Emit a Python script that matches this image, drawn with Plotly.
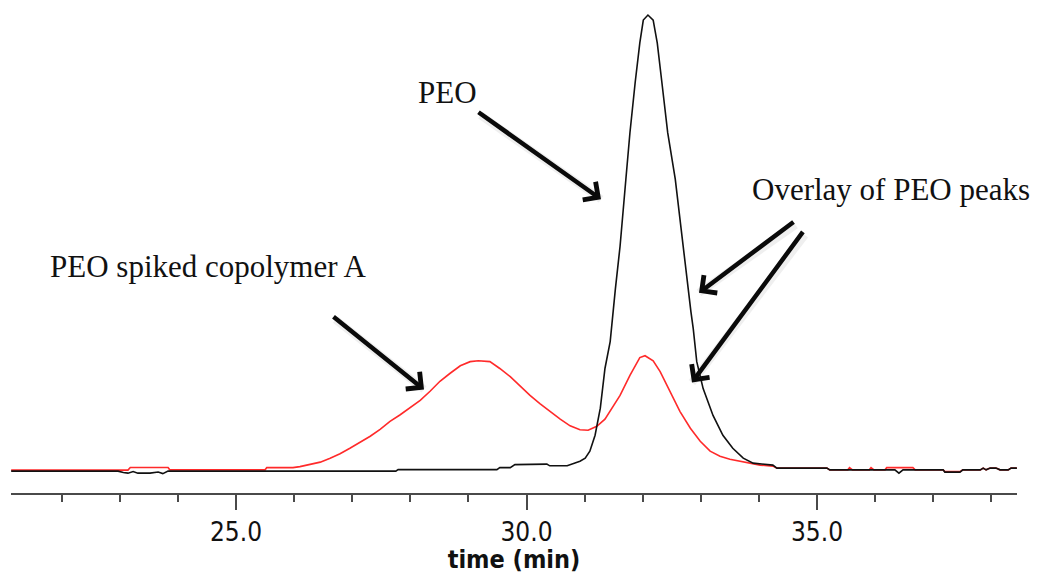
import plotly.graph_objects as go

# Elution time (min) and detector response (normalised, PEO peak = 100)
peo_time = [21.13, 22.97, 23.06, 23.14, 23.23, 23.31, 23.52, 23.66, 23.74, 23.83,
            27.75, 27.79, 29.49, 29.54, 29.72, 29.80, 30.35, 30.40, 30.70, 30.83,
            30.92, 31.01, 31.09, 31.18, 31.27, 31.35, 31.44, 31.53, 31.61, 31.71,
            31.78, 31.87, 31.95, 32.01, 32.09, 32.18, 32.25, 32.33, 32.43, 32.56,
            32.69, 32.83, 32.87, 32.93, 33.04, 33.21, 33.38, 33.55, 33.73, 33.90,
            34.24, 34.31, 35.17, 35.22, 36.34, 36.41, 36.48, 37.17, 37.20, 37.46,
            37.51, 37.81, 37.86, 37.91, 37.98, 38.08, 38.15, 38.29, 38.34, 38.44]
peo_signal = [0.0, 0.0, -0.3, -0.45, -0.1, -0.45, -0.45, -0.2, -0.55, 0.0,
              0.0, 0.33, 0.33, 0.76, 0.76, 1.42, 1.53, 1.16, 1.16, 1.75,
              2.18, 2.84, 4.37, 7.86, 13.8, 22.5, 28.4, 40.0, 49.3, 64.0,
              74.2, 85.2, 93.9, 98.9, 100.0, 98.9, 93.9, 85.2, 74.2, 64.0,
              49.3, 34.9, 31.2, 24.0, 18.1, 12.2, 7.86, 5.02, 2.84, 1.75,
              1.31, 0.66, 0.66, 0.28, 0.28, -0.44, 0.28, 0.28, -0.22, -0.22,
              0.28, 0.28, 0.66, 0.28, 0.66, 0.66, 0.28, 0.28, 0.66, 0.66]

spiked_time = [21.13, 23.14, 23.18, 23.83, 23.86, 25.50, 25.53, 25.98, 26.10, 26.27,
               26.45, 26.62, 26.79, 26.96, 27.13, 27.31, 27.48, 27.65, 27.82, 27.99,
               28.17, 28.34, 28.51, 28.68, 28.86, 29.03, 29.17, 29.37, 29.54, 29.72,
               29.89, 30.06, 30.23, 30.40, 30.58, 30.75, 30.92, 31.06, 31.21, 31.35,
               31.44, 31.61, 31.78, 31.95, 32.04, 32.18, 32.30, 32.47, 32.64, 32.82,
               32.99, 33.16, 33.33, 33.50, 33.68, 33.85, 34.02, 34.24, 34.31, 35.17,
               35.22, 35.53, 35.56, 35.61, 35.90, 35.93, 35.98, 36.17, 36.20, 36.65,
               36.69, 37.17, 37.20, 37.46, 37.51, 37.81, 37.86, 37.91, 37.98, 38.08,
               38.15, 38.29, 38.34, 38.44]
spiked_signal = [0.22, 0.22, 0.8, 0.8, 0.28, 0.28, 0.8, 0.76, 0.98, 1.38,
                 1.97, 2.84, 3.82, 5.02, 6.22, 7.64, 9.17, 10.9, 12.3, 13.8,
                 15.5, 17.5, 19.7, 21.4, 23.1, 24.0, 24.2, 24.0, 22.5, 20.7,
                 18.6, 16.6, 14.8, 13.1, 11.4, 9.93, 9.06, 8.95, 9.83, 11.4,
                 13.1, 16.6, 21.0, 24.9, 25.3, 24.2, 21.8, 17.5, 13.1, 9.39,
                 6.55, 4.37, 3.28, 2.62, 2.18, 1.75, 1.31, 1.09, 0.66, 0.66,
                 0.28, 0.28, 0.76, 0.28, 0.28, 0.76, 0.28, 0.28, 0.76, 0.76,
                 0.28, 0.28, -0.11, -0.11, 0.28, 0.28, 0.66, 0.28, 0.66, 0.66,
                 0.28, 0.28, 0.66, 0.66]

tick_vals = [25, 30, 35]
tick_text = ["25.0", "30.0", "35.0"]

W, H = 1037, 574
ML, MR, MT, MB = 11, 20, 5, 79
X_RANGE = [21.127, 38.442]
Y_RANGE = [-4.8, 102.2]

fig = go.Figure()
fig.add_trace(go.Scatter(x=spiked_time, y=spiked_signal, mode="lines",
                         line=dict(color="#ff2a2a", width=1.6), showlegend=False))
fig.add_trace(go.Scatter(x=peo_time, y=peo_signal, mode="lines",
                         line=dict(color="#111111", width=1.6), showlegend=False))


def paper_xy(px, py):
    """Pixel position in the page -> paper coordinates of the plot area."""
    pw = W - ML - MR
    ph = H - MT - MB
    return (px - ML) / pw, (H - MB - py) / ph


serif = dict(family="Liberation Serif, Times New Roman, serif", size=31, color="#111111")

labels = [
    ("PEO", 447, 93),
    ("Overlay of PEO peaks", 891, 190),
    ("PEO spiked copolymer A", 208, 268),
]
for text, px, py in labels:
    x, y = paper_xy(px, py)
    fig.add_annotation(x=x, y=y, xref="paper", yref="paper", text=text,
                       showarrow=False, font=serif, xanchor="center", yanchor="middle")

# arrows: (head_x, head_y, tail_x, tail_y) in page pixels
arrows = [
    (601, 200, 477, 112),
    (699, 294, 795, 222),
    (692, 384, 804, 232),
    (424, 391, 332, 317),
]
for hx, hy, tx, ty in arrows:
    x, y = paper_xy(hx, hy)
    # faint halo under each arrow
    fig.add_annotation(x=x, y=y, xref="paper", yref="paper", text="",
                       showarrow=True, ax=tx - hx + 2, ay=ty - hy + 3,
                       arrowhead=0, arrowwidth=8,
                       arrowcolor="rgba(0,0,0,0.06)", standoff=0)
    fig.add_annotation(x=x, y=y, xref="paper", yref="paper", text="",
                       showarrow=True, ax=tx - hx, ay=ty - hy,
                       arrowhead=4, arrowsize=0.95, arrowwidth=4.5,
                       arrowcolor="#0a0a0a", standoff=0)

fig.update_layout(
    width=W, height=H,
    margin=dict(l=ML, r=MR, t=MT, b=MB),
    paper_bgcolor="white", plot_bgcolor="white",
    xaxis=dict(
        range=X_RANGE, showgrid=False, zeroline=False,
        showline=True, linecolor="#4a4a4a", linewidth=2,
        tickmode="array", tickvals=tick_vals, ticktext=tick_text,
        ticks="outside", ticklen=15, tickwidth=1.5, tickcolor="#4a4a4a",
        tickfont=dict(family="DejaVu Sans Condensed, Liberation Sans Narrow, Liberation Sans, sans-serif",
                      size=26, color="#111111"),
        minor=dict(tickmode="linear", tick0=0, dtick=1, ticks="outside",
                   ticklen=7, tickwidth=1.5, tickcolor="#4a4a4a"),
        title=dict(text="<b>time (min)</b>", standoff=4,
                   font=dict(family="DejaVu Sans Condensed, Liberation Sans, sans-serif",
                             size=25, color="#111111")),
    ),
    yaxis=dict(range=Y_RANGE, visible=False),
)

fig.write_html("out.html")
